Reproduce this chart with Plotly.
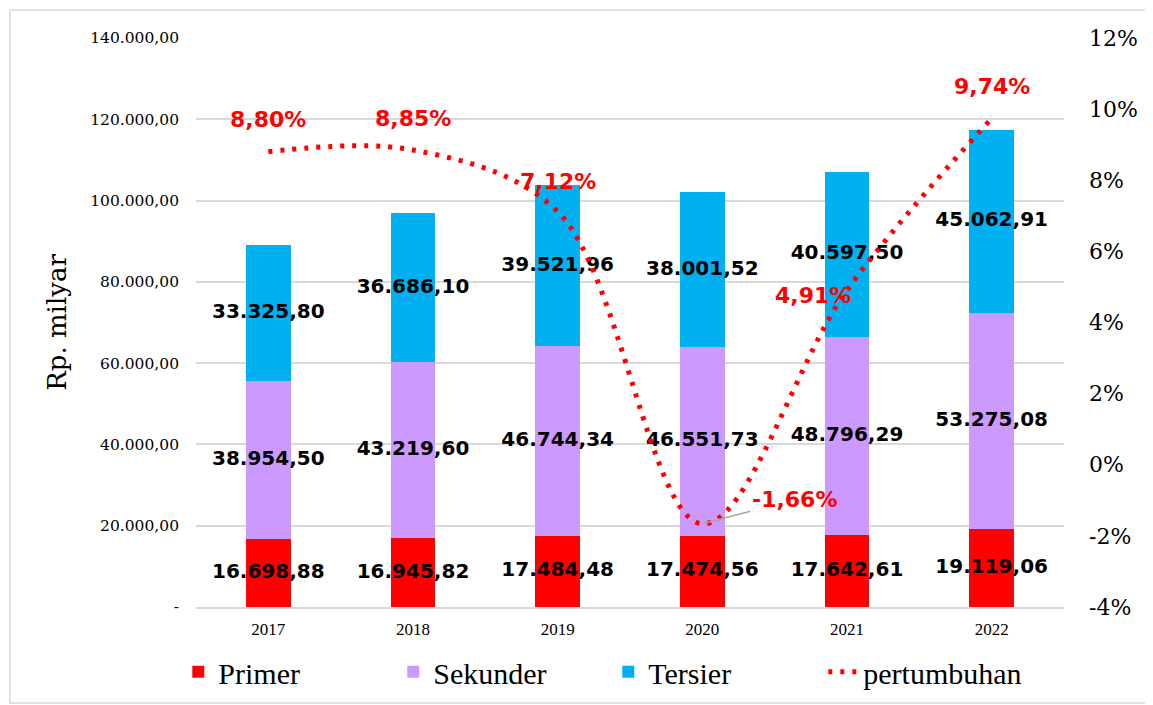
import plotly.graph_objects as go

# data
years = ["2017", "2018", "2019", "2020", "2021", "2022"]
primer = [16698.88, 16945.82, 17484.48, 17474.56, 17642.61, 19119.06]
sekunder = [38954.50, 43219.60, 46744.34, 46551.73, 48796.29, 53275.08]
tersier = [33325.80, 36686.10, 39521.96, 38001.52, 40597.50, 45062.91]
pertumbuhan = [8.80, 8.85, 7.12, -1.66, 4.91, 9.74]

left_ticks = [0, 20000, 40000, 60000, 80000, 100000, 120000, 140000]
left_ticktext = ["-", "20.000,00", "40.000,00", "60.000,00", "80.000,00",
                 "100.000,00", "120.000,00", "140.000,00"]
right_ticks = [-4, -2, 0, 2, 4, 6, 8, 10, 12]
right_ticktext = ["-4%", "-2%", "0%", "2%", "4%", "6%", "8%", "10%", "12%"]

# styles
c_primer = "#ff0000"
c_sekunder = "#cc99ff"
c_tersier = "#00b0f0"
grid_color = "#d9d9d9"
serif = "DejaVu Serif"
label_font = dict(family="DejaVu Sans", size=20, color="black", weight="bold")
pct_font = dict(family="DejaVu Sans", size=22, color="#ff0000", weight="bold")


def id_num(v):
    s = f"{v:,.2f}"
    return s.replace(",", "X").replace(".", ",").replace("X", ".")


def id_pct(v):
    return f"{v:.2f}".replace(".", ",") + "%"


fig = go.Figure()

for name, vals, col in [("Primer", primer, c_primer),
                        ("Sekunder", sekunder, c_sekunder),
                        ("Tersier", tersier, c_tersier)]:
    fig.add_trace(go.Bar(
        x=years, y=vals, name=name,
        marker=dict(color=col, line=dict(width=0)),
        hoverinfo="skip",
    ))

fig.add_trace(go.Scatter(
    x=years, y=pertumbuhan, name="pertumbuhan", yaxis="y2",
    mode="lines",
    line=dict(color="#ff0000", width=5, dash="4px,8px", shape="spline", smoothing=1),
    hoverinfo="skip",
))

# segment labels, centered on each stacked segment
mid_p = [p / 2 for p in primer]
mid_s = [p + s / 2 for p, s in zip(primer, sekunder)]
mid_t = [p + s + t / 2 for p, s, t in zip(primer, sekunder, tersier)]
for mids, vals in [(mid_p, primer), (mid_s, sekunder), (mid_t, tersier)]:
    fig.add_trace(go.Scatter(
        x=years, y=mids, mode="text",
        text=[id_num(v) for v in vals],
        textposition="middle center",
        textfont=label_font,
        showlegend=False, hoverinfo="skip",
    ))

# growth labels (x as category index)
offsets = [(0, 32), (0, 32), (0, 30), None, (-34, -5), (0, 32)]
for i, (v, off) in enumerate(zip(pertumbuhan, offsets)):
    if off is None:
        fig.add_annotation(
            x=i, y=v, yref="y2", text=id_pct(v), font=pct_font,
            showarrow=True, ax=92, ay=-24, arrowhead=0, arrowwidth=1.5,
            arrowcolor="#a6a6a6", standoff=2,
        )
    else:
        fig.add_annotation(
            x=i, y=v, yref="y2", text=id_pct(v), font=pct_font,
            showarrow=False, xshift=off[0], yshift=off[1],
        )

# chart border
fig.add_shape(type="rect", xref="paper", yref="paper",
              x0=-0.2143, x1=1.1014, y0=-0.1687, y1=1.0492,
              line=dict(color=grid_color, width=1.5), fillcolor="rgba(0,0,0,0)")

fig.update_layout(
    width=1153, height=705,
    margin=dict(l=188, r=97, t=30, b=106),
    paper_bgcolor="white", plot_bgcolor="white",
    barmode="stack", bargap=0.69,
    showlegend=True,
    legend=dict(orientation="h", x=0.475, xanchor="center", y=-0.114, yanchor="middle",
                font=dict(family="Liberation Serif", size=30, color="black"),
                entrywidth=170, traceorder="normal"),
    xaxis=dict(
        type="category", range=[-0.5, 5.5],
        tickfont=dict(family="Liberation Serif", size=17, color="black"),
        showline=True, linecolor=grid_color, linewidth=2,
        showgrid=False, ticks="", ticklabelstandoff=6,
    ),
    yaxis=dict(
        range=[0, 140000], tickvals=left_ticks, ticktext=left_ticktext,
        tickfont=dict(family=serif, size=15.5, color="black"),
        showgrid=True, gridcolor=grid_color, gridwidth=1.5,
        zeroline=False, ticks="", ticklabelstandoff=16,
        title=dict(text="Rp. milyar", font=dict(family=serif, size=26, color="black"),
                   standoff=16),
    ),
    yaxis2=dict(
        range=[-4, 12], tickvals=right_ticks, ticktext=right_ticktext,
        overlaying="y", side="right",
        tickfont=dict(family=serif, size=22, color="black"),
        showgrid=False, zeroline=False, ticks="", ticklabelstandoff=24,
    ),
)

fig.write_html("out.html")
